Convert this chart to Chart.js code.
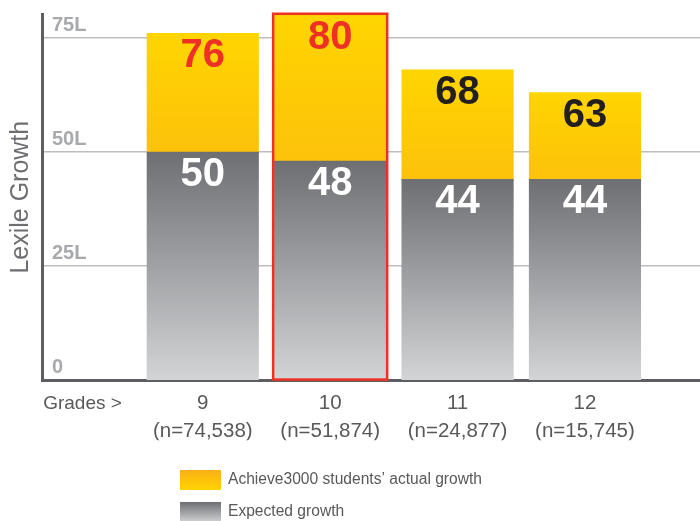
<!DOCTYPE html>
<html>
<head>
<meta charset="utf-8">
<script src="https://cdn.jsdelivr.net/npm/chart.js@4"></script>
<style>
  html, body { margin: 0; padding: 0; background: #ffffff; }
  canvas { display: block; }
</style>
</head>
<body>
<canvas id="growth" width="700" height="521"></canvas>
<script>
// ---- data ----
const grades = ['9', '10', '11', '12'];
const sampleSizes = ['(n=74,538)', '(n=51,874)', '(n=24,877)', '(n=15,745)'];
const actualGrowth = [76, 80, 68, 63];
const expectedGrowth = [50, 48, 44, 44];
const yTickValues = [0, 25, 50, 75];
const axisLead = 'Grades >';
const seriesNames = ['Achieve3000 students\u2019 actual growth', 'Expected growth'];
const highlightedGrade = '10';

// ---- styling ----
const SANS = "'Liberation Sans', Arial, sans-serif";
const TEXT_GREY = '#58595b';
const AXIS_GREY = '#5d5e61';
const GRID_GREY = '#bcbdc0';
const HIGHLIGHT_RED = '#ee3124';
const actualLabelColors = ['#ee3124', '#ee3124', '#231f20', '#231f20'];

// horizontal placement of the grade columns on a numeric x axis
const X_MIN = -1.262, X_MAX = 3.903, LEAD_POS = -0.944;
const Y_MAX = 80.2;

function verticalGradient(chart, top, bottom, c0, c1) {
  const g = chart.ctx.createLinearGradient(0, top, 0, bottom);
  g.addColorStop(0, c0);
  g.addColorStop(1, c1);
  return g;
}

function expectedFill(c) {
  const chart = c.chart, y = chart.scales.y;
  if (c.type !== 'data' || !y || !chart.chartArea) return '#8e8f93';
  return verticalGradient(chart, y.getPixelForValue(c.raw.y), y.getPixelForValue(0), '#6e6f73', '#d3d4d6');
}

// yellow only above the expected bar; transparent underneath it so no fringe shows
function actualFill(c) {
  const chart = c.chart, y = chart.scales.y;
  if (c.type !== 'data' || !y || !chart.chartArea) return '#ffd200';
  const top = y.getPixelForValue(c.raw.y);
  const base = y.getPixelForValue(0);
  const mid = y.getPixelForValue(expectedGrowth[c.dataIndex]);
  const f = Math.min(0.995, (mid - top + 1) / (base - top));
  const g = chart.ctx.createLinearGradient(0, top, 0, base);
  g.addColorStop(0, '#ffd500');
  g.addColorStop(f, '#fcc20b');
  g.addColorStop(f + 0.004, 'rgba(255,255,255,0)');
  g.addColorStop(1, 'rgba(255,255,255,0)');
  return g;
}

// value labels inside the bars and the outline around the highlighted grade
const barAnnotations = {
  id: 'barAnnotations',
  afterDatasetsDraw(chart) {
    const ctx = chart.ctx;
    const expMeta = chart.getDatasetMeta(0);
    const actMeta = chart.getDatasetMeta(1);
    ctx.save();

    const hi = grades.indexOf(highlightedGrade);
    const el = actMeta.data[hi];
    if (el) {
      const lw = 2.5;
      ctx.strokeStyle = HIGHLIGHT_RED;
      ctx.lineWidth = lw;
      ctx.strokeRect(el.x - el.width / 2 - lw / 2, el.y - lw / 2, el.width + lw, el.base - el.y + lw / 2);
    }

    ctx.font = 'bold 40px ' + SANS;
    ctx.textAlign = 'center';
    ctx.textBaseline = 'middle';
    actMeta.data.forEach((bar, i) => {
      ctx.fillStyle = actualLabelColors[i];
      ctx.fillText(String(actualGrowth[i]), bar.x, bar.y + 23);
    });
    expMeta.data.forEach((bar, i) => {
      ctx.fillStyle = '#ffffff';
      ctx.fillText(String(expectedGrowth[i]), bar.x, bar.y + 23);
    });
    ctx.restore();
  }
};

// key below the axis
const growthKey = {
  id: 'growthKey',
  afterDraw(chart) {
    const ctx = chart.ctx;
    ctx.save();
    const x = 180, w = 41, h = 20;
    const rows = [
      { y: 470, c0: '#fbb017', c1: '#ffd400', text: seriesNames[0] },
      { y: 502, c0: '#6d6e71', c1: '#d0d1d3', text: seriesNames[1] }
    ];
    ctx.font = '15.6px ' + SANS;
    ctx.textAlign = 'left';
    ctx.textBaseline = 'middle';
    rows.forEach(r => {
      ctx.fillStyle = verticalGradient(chart, r.y, r.y + h, r.c0, r.c1);
      ctx.fillRect(x, r.y, w, h);
      ctx.fillStyle = TEXT_GREY;
      ctx.fillText(r.text, 228, r.y + 10);
    });
    ctx.restore();
  }
};

new Chart(document.getElementById('growth'), {
  type: 'bar',
  data: {
    datasets: [
      {
        label: seriesNames[1],
        data: expectedGrowth.map((v, i) => ({ x: i, y: v })),
        order: 1,
        grouped: false,
        barThickness: 111.5,
        borderWidth: 0,
        backgroundColor: expectedFill
      },
      {
        label: seriesNames[0],
        data: actualGrowth.map((v, i) => ({ x: i, y: v })),
        order: 2,
        grouped: false,
        barThickness: 111.5,
        borderWidth: 0,
        backgroundColor: actualFill
      }
    ]
  },
  options: {
    responsive: false,
    animation: false,
    devicePixelRatio: 1,
    layout: { padding: { top: 14.1, bottom: 80.7, left: 0, right: 0 } },
    plugins: {
      legend: { display: false },
      tooltip: { enabled: false }
    },
    scales: {
      x: {
        type: 'linear',
        offset: false,
        min: X_MIN,
        max: X_MAX,
        z: 1,
        grid: { display: false, drawTicks: false, offset: false },
        border: { display: true, color: AXIS_GREY, width: 3 },
        ticks: {
          autoSkip: false,
          maxRotation: 0,
          padding: 9,
          color: TEXT_GREY,
          font: c => c.index === 0
            ? { family: SANS, size: 19, lineHeight: '28px' }
            : { family: SANS, size: 20.5, lineHeight: '28px' },
          callback: (value, index) => index === 0 ? axisLead : [grades[index - 1], sampleSizes[index - 1]]
        },
        afterBuildTicks: s => {
          s.ticks = [{ value: LEAD_POS }].concat(grades.map((g, i) => ({ value: i })));
        },
        afterFit: s => { s.height = 60; s.paddingLeft = 0; s.paddingRight = 0; }
      },
      y: {
        min: 0,
        max: Y_MAX,
        grid: {
          drawTicks: false,
          lineWidth: 1.5,
          color: c => (c.tick && c.tick.value === 0) ? 'rgba(0,0,0,0)' : GRID_GREY
        },
        border: { display: true, color: AXIS_GREY, width: 3 },
        ticks: {
          mirror: true,
          padding: 10,
          labelOffset: -12.5,
          color: '#a7a9ac',
          font: { family: SANS, size: 20, weight: 'bold' },
          callback: v => v === 0 ? '0' : v + 'L'
        },
        title: {
          display: true,
          text: 'Lexile Growth',
          color: '#6d6e71',
          font: { family: SANS, size: 25, lineHeight: 1.2 },
          padding: { top: 6, bottom: 0 }
        },
        afterBuildTicks: s => { s.ticks = yTickValues.map(v => ({ value: v })); },
        afterFit: s => { s.width = 42; s.paddingTop = 0; s.paddingBottom = 0; }
      }
    }
  },
  plugins: [barAnnotations, growthKey]
});
</script>
</body>
</html>
